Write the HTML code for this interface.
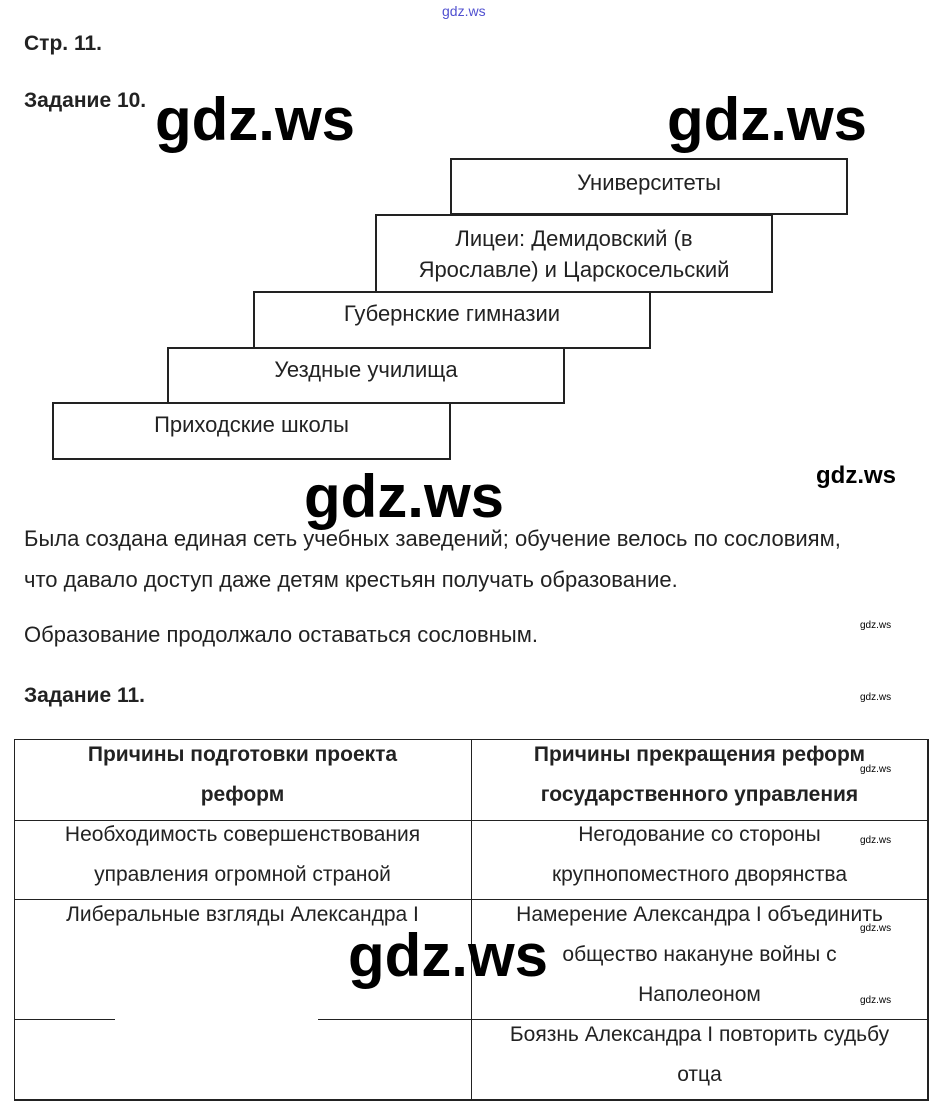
<!DOCTYPE html>
<html><head><meta charset="utf-8"><style>
body{margin:0;width:941px;height:1111px;background:#fff;position:relative;overflow:hidden;font-family:"Liberation Sans",sans-serif;color:#222}
.a{position:absolute;white-space:nowrap}
.b{position:absolute;border:2px solid #222;box-sizing:border-box;background:#fff;text-align:center;font-size:22px;line-height:31px;color:#222}
.w{position:absolute;font-family:"Liberation Sans",sans-serif;font-weight:bold;font-size:60px;color:#000;white-space:nowrap;line-height:1}
.s{position:absolute;font-size:10px;color:#000;font-family:"Liberation Sans",sans-serif}
.t{position:absolute;font-family:"Liberation Sans",sans-serif;font-size:21px;text-align:center;line-height:40px;color:#222}
.l{position:absolute;background:#222}
</style></head><body>
<div class="a" style="left:442px;top:3px;font-size:14px;color:#5050d0">gdz.ws</div>
<div class="a" style="left:24px;top:32px;font-size:21px;font-weight:bold">Стр. 11.</div>
<div class="a" style="left:24px;top:89px;font-size:21px;font-weight:bold">Задание 10.</div>

<div class="b" style="left:450px;top:158px;width:398px;height:57px;padding-top:7px">Университеты</div>
<div class="b" style="left:375px;top:214px;width:398px;height:79px;padding-top:7px">Лицеи: Демидовский (в<br>Ярославле) и Царскосельский</div>
<div class="b" style="left:253px;top:291px;width:398px;height:58px;padding-top:5px">Губернские гимназии</div>
<div class="b" style="left:167px;top:347px;width:398px;height:57px;padding-top:5px">Уездные училища</div>
<div class="b" style="left:52px;top:402px;width:399px;height:58px;padding-top:5px">Приходские школы</div>

<div class="w" style="left:155px;top:90px">gdz.ws</div>
<div class="w" style="left:667px;top:90px">gdz.ws</div>
<div class="w" style="left:304px;top:467px">gdz.ws</div>
<div class="a" style="left:816px;top:462px;font-size:24px;font-weight:bold;color:#000">gdz.ws</div>

<div class="a" style="left:24px;top:518px;font-size:22px;line-height:41px">Была создана единая сеть учебных заведений; обучение велось по сословиям,<br>что давало доступ даже детям крестьян получать образование.</div>
<div class="a" style="left:24px;top:622px;font-size:22px">Образование продолжало оставаться сословным.</div>
<div class="s" style="left:860px;top:620px">gdz.ws</div>
<div class="a" style="left:24px;top:684px;font-size:21px;font-weight:bold">Задание 11.</div>
<div class="s" style="left:860px;top:692px">gdz.ws</div>

<div class="l" style="left:14px;top:739px;width:915px;height:1px"></div>
<div class="l" style="left:14px;top:820px;width:915px;height:1px"></div>
<div class="l" style="left:14px;top:899px;width:915px;height:1px"></div>
<div class="l" style="left:14px;top:1019px;width:101px;height:1px"></div>
<div class="l" style="left:318px;top:1019px;width:611px;height:1px"></div>
<div class="l" style="left:14px;top:1099px;width:915px;height:2px"></div>
<div class="l" style="left:14px;top:739px;width:1px;height:361px"></div>
<div class="l" style="left:471px;top:739px;width:1px;height:361px"></div>
<div class="l" style="left:927px;top:739px;width:2px;height:361px"></div>

<div class="t" style="left:14px;top:735px;width:457px;font-weight:bold">Причины подготовки проекта<br>реформ</div>
<div class="t" style="left:471px;top:735px;width:457px;font-weight:bold">Причины прекращения реформ<br>государственного управления</div>
<div class="t" style="left:14px;top:815px;width:457px">Необходимость совершенствования<br>управления огромной страной</div>
<div class="t" style="left:471px;top:815px;width:457px">Негодование со стороны<br>крупнопоместного дворянства</div>
<div class="t" style="left:14px;top:895px;width:457px">Либеральные взгляды Александра I</div>
<div class="t" style="left:471px;top:895px;width:457px">Намерение Александра I объединить<br>общество накануне войны с<br>Наполеоном</div>
<div class="t" style="left:471px;top:1015px;width:457px">Боязнь Александра I повторить судьбу<br>отца</div>

<div class="s" style="left:860px;top:764px">gdz.ws</div>
<div class="s" style="left:860px;top:835px">gdz.ws</div>
<div class="s" style="left:860px;top:923px">gdz.ws</div>
<div class="s" style="left:860px;top:995px">gdz.ws</div>
<div class="w" style="left:348px;top:926px">gdz.ws</div>
</body></html>
